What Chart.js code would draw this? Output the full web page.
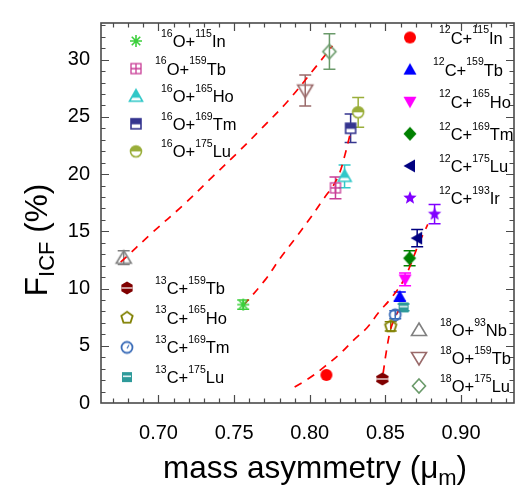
<!DOCTYPE html>
<html>
<head>
<meta charset="utf-8">
<script src="https://cdn.jsdelivr.net/npm/chart.js@4.4.0/dist/chart.umd.min.js"></script>
<style>
html, body { margin: 0; padding: 0; background: #fff; }
</style>
</head>
<body>
<canvas id="myChart" width="523" height="500"></canvas>
<script>
// ---- data ----
const o16Targets = ['115In', '159Tb', '165Ho', '169Tm', '175Lu'];
const o16Mu = [0.756, 0.817, 0.823, 0.827, 0.832];
const o16Ficf = [8.6, 18.8, 19.8, 24.0, 25.4];
const o16Err = [0.4, 0.95, 1.0, 1.25, 1.3];

const c12Targets = ['115In', '159Tb', '165Ho', '169Tm', '175Lu', '193Ir'];
const c12Mu = [0.811, 0.8595, 0.863, 0.866, 0.871, 0.8825];
const c12Ficf = [2.45, 9.3, 10.8, 12.65, 14.4, 16.5];
const c12Err = [0, 0.4, 0.55, 0.65, 0.75, 0.85];

const c13Targets = ['159Tb', '165Ho', '169Tm', '175Lu'];
const c13Mu = [0.848, 0.8535, 0.8565, 0.862];
const c13Ficf = [2.1, 6.7, 7.7, 8.35];
const c13Err = [0.2, 0.4, 0.35, 0.3];

const o18Targets = ['93Nb', '159Tb', '175Lu'];
const o18Mu = [0.677, 0.797, 0.813];
const o18Ficf = [12.7, 27.3, 30.7];
const o18Err = [0.6, 1.35, 1.55];

// red dashed curves
const fitO18Mu = [0.675, 0.6956, 0.7164, 0.736, 0.7525, 0.769, 0.785, 0.8036, 0.815];
const fitO18F = [12.3, 14.85, 17.3, 19.8, 21.9, 24.1, 26.3, 29.3, 31.2];
const fitO16Mu = [0.756, 0.7708, 0.7807, 0.7905, 0.800, 0.8095, 0.816, 0.820, 0.8233, 0.8265];
const fitO16F = [8.5, 10.8, 12.7, 14.4, 16.1, 17.9, 19.1, 20.2, 21.7, 23.4];
const fitC12Mu = [0.790, 0.800, 0.810, 0.820, 0.829, 0.838, 0.8455, 0.854, 0.862, 0.867, 0.872, 0.878];
const fitC12F = [1.4, 2.2, 3.2, 4.3, 5.5, 6.6, 7.9, 9.2, 10.7, 12.2, 13.9, 15.6];
const fitC13Mu = [0.8485, 0.8505, 0.853, 0.856, 0.8595, 0.863];
const fitC13F = [2.6, 4.4, 6.2, 7.4, 8.2, 8.7];

const xTicks = [0.70, 0.75, 0.80, 0.85, 0.90];
const yTicks = [0, 5, 10, 15, 20, 25, 30];

// ---- styles ----
const FONT = "'Liberation Sans', Arial, sans-serif";
const frameColor = '#4a4a4a';

const styleO16 = [
    {kind: 'asterisk', color: '#3ccf3c'},
    {kind: 'boxcross', color: '#c83c96'},
    {kind: 'triHalf', color: '#32c8c8'},
    {kind: 'sqHalf', color: '#35358f'},
    {kind: 'circHalf', color: '#9aae3a'}
];
const styleC12 = [
    {kind: 'circle', color: '#ff0000'},
    {kind: 'triUp', color: '#0000ff'},
    {kind: 'triDown', color: '#ff00ff'},
    {kind: 'diamond', color: '#008000'},
    {kind: 'triLeft', color: '#000080'},
    {kind: 'star', color: '#8000ff'}
];
const styleC13 = [
    {kind: 'hexFill', color: '#800000'},
    {kind: 'pentagon', color: '#808000'},
    {kind: 'circClock', color: '#3a6cb8'},
    {kind: 'sqStripe', color: '#2e9a9a'}
];
const styleO18 = [
    {kind: 'triOpen', color: '#808080'},
    {kind: 'triDownOpen', color: '#9a6a6a'},
    {kind: 'diamondOpen', color: '#6a9a6a'}
];

const groups = [
    {proj: '16', el: 'O', targets: o16Targets, mu: o16Mu, f: o16Ficf, err: o16Err, style: styleO16},
    {proj: '12', el: 'C', targets: c12Targets, mu: c12Mu, f: c12Ficf, err: c12Err, style: styleC12},
    {proj: '13', el: 'C', targets: c13Targets, mu: c13Mu, f: c13Ficf, err: c13Err, style: styleC13},
    {proj: '18', el: 'O', targets: o18Targets, mu: o18Mu, f: o18Ficf, err: o18Err, style: styleO18}
];

// legend placement (canvas pixels)
const legendLayout = [
    {markerX: 136, textX: 161, y0: 41, dy: 27.6, shift: [0, -6, 0, 0, 0]},
    {markerX: 410, textX: 439, y0: 37.5, dy: 32.1, shift: [0, -6, 0, 0, 0, 0]},
    {markerX: 127, textX: 155, y0: 288, dy: 29.7, shift: [0, 0, 0, 0]},
    {markerX: 419, textX: 440, y0: 330, dy: 28, shift: [0, 0, 0]}
];

function poly(g, pts) {
    g.beginPath();
    pts.forEach((p, i) => i ? g.lineTo(p[0], p[1]) : g.moveTo(p[0], p[1]));
    g.closePath();
}

function makeMarker(kind, color) {
    const c = document.createElement('canvas');
    c.width = 20; c.height = 20;
    const g = c.getContext('2d');
    g.translate(10, 10);
    g.strokeStyle = color; g.fillStyle = color; g.lineWidth = 1.6;
    const tri = [[0, -6.5], [6.5, 5], [-6.5, 5]];
    const triBig = [[0, -7], [7.5, 5.5], [-7.5, 5.5]];
    const triD = [[0, 6.5], [6.5, -5], [-6.5, -5]];
    const triDBig = [[0, 7], [7.5, -5.5], [-7.5, -5.5]];
    const dia = [[0, -7], [6.5, 0], [0, 7], [-6.5, 0]];
    if (kind === 'asterisk') {
        g.beginPath();
        for (let k = 0; k < 4; k++) {
            const a = k * Math.PI / 4;
            g.moveTo(-6 * Math.cos(a), -6 * Math.sin(a));
            g.lineTo(6 * Math.cos(a), 6 * Math.sin(a));
        }
        g.stroke();
    } else if (kind === 'boxcross') {
        g.lineWidth = 1.3;
        g.strokeRect(-5, -5, 10, 10);
        g.beginPath(); g.moveTo(0, -5); g.lineTo(0, 5); g.moveTo(-5, 0); g.lineTo(5, 0); g.stroke();
    } else if (kind === 'triHalf') {
        poly(g, tri); g.fill();
        g.save(); poly(g, tri); g.clip();
        g.fillStyle = '#fff'; g.fillRect(-8, 1.5, 16, 3.5);
        g.restore();
        poly(g, tri); g.stroke();
    } else if (kind === 'sqHalf') {
        g.fillStyle = '#fff'; g.fillRect(-5, -5, 10, 10);
        g.fillStyle = color; g.fillRect(-5, -5, 10, 5.5);
        g.strokeRect(-5, -5, 10, 10);
    } else if (kind === 'circHalf') {
        g.fillStyle = '#fff'; g.beginPath(); g.arc(0, 0, 5.5, 0, Math.PI * 2); g.fill();
        g.fillStyle = color; g.beginPath(); g.arc(0, 0, 5.5, Math.PI, 0); g.closePath(); g.fill();
        g.beginPath(); g.arc(0, 0, 5.5, 0, Math.PI * 2); g.stroke();
    } else if (kind === 'circle') {
        g.beginPath(); g.arc(0, 0, 6, 0, Math.PI * 2); g.fill();
    } else if (kind === 'triUp') {
        poly(g, tri); g.fill();
    } else if (kind === 'triDown') {
        poly(g, triD); g.fill();
    } else if (kind === 'diamond') {
        poly(g, dia); g.fill();
    } else if (kind === 'triLeft') {
        poly(g, [[-6.5, 0], [5, -6.5], [5, 6.5]]); g.fill();
    } else if (kind === 'star') {
        const pts = [];
        for (let k = 0; k < 10; k++) {
            const r = k % 2 ? 3 : 7;
            const a = -Math.PI / 2 + k * Math.PI / 5;
            pts.push([r * Math.cos(a), r * Math.sin(a)]);
        }
        poly(g, pts); g.fill();
    } else if (kind === 'hexFill') {
        const pts = [];
        for (let k = 0; k < 6; k++) {
            const a = -Math.PI / 2 + k * Math.PI / 3;
            pts.push([6.5 * Math.cos(a), 6.5 * Math.sin(a)]);
        }
        poly(g, pts); g.fill();
        g.fillStyle = '#fff'; g.fillRect(-5.5, -0.6, 11, 1.2);
    } else if (kind === 'pentagon') {
        const pts = [];
        for (let k = 0; k < 5; k++) {
            const a = -Math.PI / 2 + k * 2 * Math.PI / 5;
            pts.push([6 * Math.cos(a), 6 * Math.sin(a)]);
        }
        g.lineWidth = 1.8;
        poly(g, pts); g.stroke();
    } else if (kind === 'circClock') {
        g.lineWidth = 1.8;
        g.beginPath(); g.arc(0, 0, 5.5, 0, Math.PI * 2); g.stroke();
        g.lineWidth = 1.2;
        g.beginPath(); g.moveTo(0, 1); g.lineTo(2, -2.5); g.stroke();
    } else if (kind === 'sqStripe') {
        g.fillRect(-5, -5, 10, 10);
        g.fillStyle = '#fff'; g.fillRect(-4, -1.5, 8, 1.4);
    } else if (kind === 'triOpen') {
        poly(g, triBig); g.stroke();
    } else if (kind === 'triDownOpen') {
        poly(g, triDBig); g.stroke();
    } else if (kind === 'diamondOpen') {
        poly(g, dia); g.stroke();
    }
    return c;
}

// ---- datasets ----
const datasets = [];

function fitLine(mu, f) {
    return {
        data: mu.map((m, i) => ({x: m, y: f[i]})),
        showLine: true,
        borderColor: '#ff0000',
        borderWidth: 1.7,
        borderDash: [8, 7],
        pointRadius: 0,
        tension: 0.35,
        fill: false,
        order: 10
    };
}
datasets.push(fitLine(fitO18Mu, fitO18F));
datasets.push(fitLine(fitO16Mu, fitO16F));
datasets.push(fitLine(fitC12Mu, fitC12F));
datasets.push(fitLine(fitC13Mu, fitC13F));

groups.forEach(g => {
    g.markers = g.style.map(s => makeMarker(s.kind, s.color));
    g.targets.forEach((t, i) => {
        datasets.push({
            label: g.proj + g.el + '+' + t,
            data: [{x: g.mu[i], y: g.f[i]}],
            pointStyle: g.markers[i],
            pointRadius: 8,
            showLine: false,
            errs: [g.err[i]],
            errColor: g.style[i].color,
            order: 1
        });
    });
});

// ---- drawing helpers ----
function richWidth(ctx, parts, size, supSize) {
    let w = 0;
    parts.forEach(p => {
        ctx.font = ((p.sup || p.sub) ? supSize : size) + 'px ' + FONT;
        w += ctx.measureText(p.t).width;
    });
    return w;
}

function drawRich(ctx, x, baseline, parts, size, supSize) {
    let cx = x;
    parts.forEach(p => {
        if (p.sup) {
            ctx.font = supSize + 'px ' + FONT;
            ctx.fillText(p.t, cx, baseline - size * 0.62);
        } else if (p.sub) {
            ctx.font = supSize + 'px ' + FONT;
            ctx.fillText(p.t, cx, baseline + size * 0.22);
        } else {
            ctx.font = size + 'px ' + FONT;
            ctx.fillText(p.t, cx, baseline);
        }
        cx += ctx.measureText(p.t).width;
    });
}

function splitNuclide(s) {
    const m = s.match(/^(\d+)(\D+)$/);
    return [m[1], m[2]];
}

const decor = {
    id: 'decor',
    beforeDatasetsDraw(chart) {
        const ctx = chart.ctx, xs = chart.scales.x, ys = chart.scales.y;
        ctx.save();
        ctx.lineWidth = 1.5;
        chart.data.datasets.forEach(ds => {
            if (!ds.errs) return;
            ds.data.forEach((p, i) => {
                const e = ds.errs[i];
                if (!e) return;
                const px = xs.getPixelForValue(p.x);
                const y1 = ys.getPixelForValue(p.y - e);
                const y2 = ys.getPixelForValue(p.y + e);
                ctx.strokeStyle = ds.errColor;
                ctx.beginPath();
                ctx.moveTo(px, y1); ctx.lineTo(px, y2);
                ctx.moveTo(px - 6, y1); ctx.lineTo(px + 6, y1);
                ctx.moveTo(px - 6, y2); ctx.lineTo(px + 6, y2);
                ctx.stroke();
            });
        });
        ctx.restore();
    },
    afterDraw(chart) {
        const ctx = chart.ctx, a = chart.chartArea;
        const xs = chart.scales.x, ys = chart.scales.y;
        ctx.save();

        // inside ticks on all four sides
        ctx.strokeStyle = frameColor;
        ctx.lineWidth = 1.2;
        ctx.beginPath();
        for (let k = 67; k <= 93; k++) {
            const px = Math.round(xs.getPixelForValue(k / 100)) + 0.5;
            const len = k % 5 === 0 ? 8 : 4.5;
            ctx.moveTo(px, a.bottom); ctx.lineTo(px, a.bottom - len);
            ctx.moveTo(px, a.top); ctx.lineTo(px, a.top + len);
        }
        for (let k = 1; k <= 33; k++) {
            const py = Math.round(ys.getPixelForValue(k)) + 0.5;
            const len = k % 5 === 0 ? 8 : 4.5;
            ctx.moveTo(a.left, py); ctx.lineTo(a.left + len, py);
            ctx.moveTo(a.right, py); ctx.lineTo(a.right - len, py);
        }
        ctx.stroke();

        // frame
        ctx.lineWidth = 1.6;
        ctx.strokeRect(a.left, a.top, a.right - a.left, a.bottom - a.top);

        // legend groups
        ctx.fillStyle = '#000';
        ctx.textAlign = 'left';
        ctx.textBaseline = 'alphabetic';
        groups.forEach((g, gi) => {
            const L = legendLayout[gi];
            g.targets.forEach((t, i) => {
                const yc = L.y0 + i * L.dy;
                const m = g.markers[i];
                ctx.drawImage(m, L.markerX - m.width / 2, yc - m.height / 2);
                const [tm, te] = splitNuclide(t);
                drawRich(ctx, L.textX + L.shift[i], yc + 6, [
                    {t: g.proj, sup: true}, {t: g.el + '+'},
                    {t: tm, sup: true}, {t: te}
                ], 16.5, 10.5);
            });
        });

        // x axis title
        const xParts = [{t: 'mass asymmetry (\u03bc'}, {t: 'm', sub: true}, {t: ')'}];
        const xw = richWidth(ctx, xParts, 31.5, 22);
        drawRich(ctx, 315 - xw / 2, 478, xParts, 31.5, 22);

        // y axis title
        const yParts = [{t: 'F'}, {t: 'ICF', sub: true}, {t: ' (%)'}];
        const yw = richWidth(ctx, yParts, 31.5, 22);
        ctx.translate(47, 240 + yw / 2);
        ctx.rotate(-Math.PI / 2);
        drawRich(ctx, 0, 0, yParts, 31.5, 22);
        ctx.restore();
    }
};

const ctx = document.getElementById('myChart').getContext('2d');

const myChart = new Chart(ctx, {
    type: 'scatter',
    data: { datasets: datasets },
    options: {
        responsive: false,
        animation: false,
        devicePixelRatio: 1,
        layout: { padding: { top: 20, right: 5, left: 0, bottom: 0 } },
        plugins: {
            legend: { display: false },
            tooltip: { enabled: false }
        },
        scales: {
            x: {
                type: 'linear',
                min: 0.662,
                max: 0.935,
                grid: { display: false, drawTicks: false },
                border: { display: false },
                afterBuildTicks: axis => { axis.ticks = xTicks.map(v => ({value: v})); },
                afterFit: axis => { axis.height = 97; },
                ticks: {
                    padding: 18,
                    color: '#000',
                    font: { family: FONT, size: 20 },
                    callback: v => v.toFixed(2)
                }
            },
            y: {
                type: 'linear',
                min: 0,
                max: 33.2,
                grid: { display: false, drawTicks: false },
                border: { display: false },
                afterBuildTicks: axis => { axis.ticks = yTicks.map(v => ({value: v})); },
                afterFit: axis => { axis.width = 101; },
                ticks: {
                    padding: 11,
                    color: '#000',
                    font: { family: FONT, size: 20 },
                    callback: v => String(v)
                }
            }
        }
    },
    plugins: [decor]
});
</script>
</body>
</html>
